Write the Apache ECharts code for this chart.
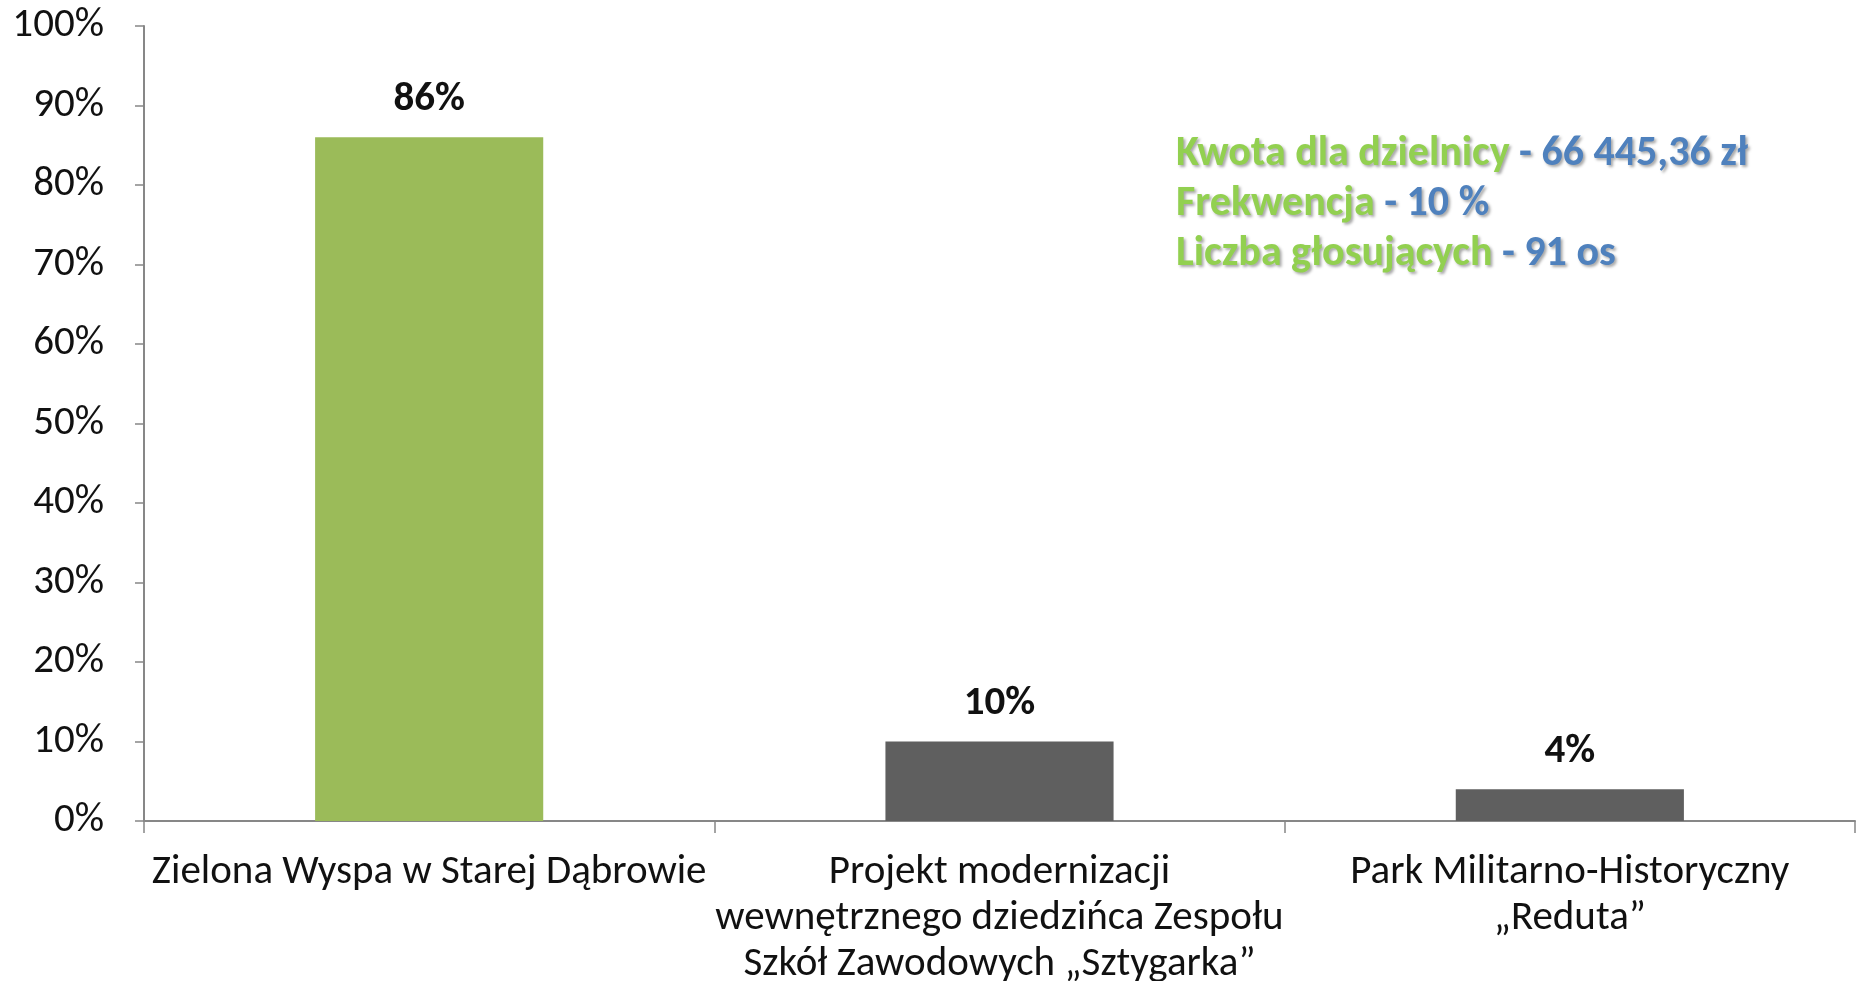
<!DOCTYPE html>
<html><head><meta charset="utf-8">
<script src="https://cdn.jsdelivr.net/npm/echarts@6/dist/echarts.min.js"></script>
<style>html,body{margin:0;padding:0;background:#fff}#c{width:1862px;height:981px}</style>
</head><body><div id="c"></div>
<script>
const categories = [
  "Zielona Wyspa w Starej Dąbrowie",
  "Projekt modernizacji\nwewnętrznego dziedzińca Zespołu\nSzkół Zawodowych „Sztygarka”",
  "Park Militarno-Historyczny\n„Reduta”"
];
const values = [86, 10, 4];
const barColors = ["#9BBB59", "#5F5F5F", "#5F5F5F"];
const yTicks = [0, 10, 20, 30, 40, 50, 60, 70, 80, 90, 100];
const infoLabels = ["Kwota dla dzielnicy", "Frekwencja", "Liczba głosujących"];
const infoValues = [" - 66 445,36 zł", " - 10 %", " - 91 os"];

const FONT = "Carlito, Lato, 'Liberation Sans', sans-serif";
const chart = echarts.init(document.getElementById('c'));
const shadow = {textShadowColor:'rgba(0,0,0,0.35)', textShadowBlur:3, textShadowOffsetX:2, textShadowOffsetY:2};
chart.setOption({
  animation:false,
  grid:{left:144, right:7, top:26, bottom:160, containLabel:false, outerBoundsMode:'none'},
  xAxis:{type:'category', data:categories,
    axisLine:{lineStyle:{color:'#878787', width:2}},
    axisTick:{show:true, length:12, lineStyle:{color:'#878787', width:1.5}},
    axisLabel:{color:'#111', fontFamily:FONT, fontSize:41, lineHeight:46, margin:29, interval:0}
  },
  yAxis:{type:'value', min:0, max:100, interval:10,
    axisLine:{show:true, lineStyle:{color:'#878787', width:2}},
    axisTick:{show:true, length:9, lineStyle:{color:'#878787', width:1.5}},
    splitLine:{show:false},
    axisLabel:{color:'#111', fontFamily:FONT, fontSize:41, margin:40,
      formatter:v => yTicks.includes(v) ? v + '%' : ''}
  },
  series:[{type:'bar', barWidth:'40%',
    data:values.map((v,i)=>({value:v, itemStyle:{color:barColors[i]}})),
    label:{show:true, position:'top', distance:17, color:'#111', fontFamily:FONT,
      fontWeight:'bold', fontSize:41, formatter:p => p.value + '%'}
  }],
  graphic: infoLabels.map((t,i)=>({
    type:'text', x:1176, y:154 + i*50,
    style:{
      text:'{g|' + t + '}{b|' + infoValues[i] + '}',
      verticalAlign:'middle',
      rich:{
        g:Object.assign({fill:'#92D050', fontFamily:FONT, fontWeight:'bold', fontSize:42}, shadow),
        b:Object.assign({fill:'#4F81BD', fontFamily:FONT, fontWeight:'bold', fontSize:42}, shadow)
      }
    }
  }))
});
</script></body></html>
